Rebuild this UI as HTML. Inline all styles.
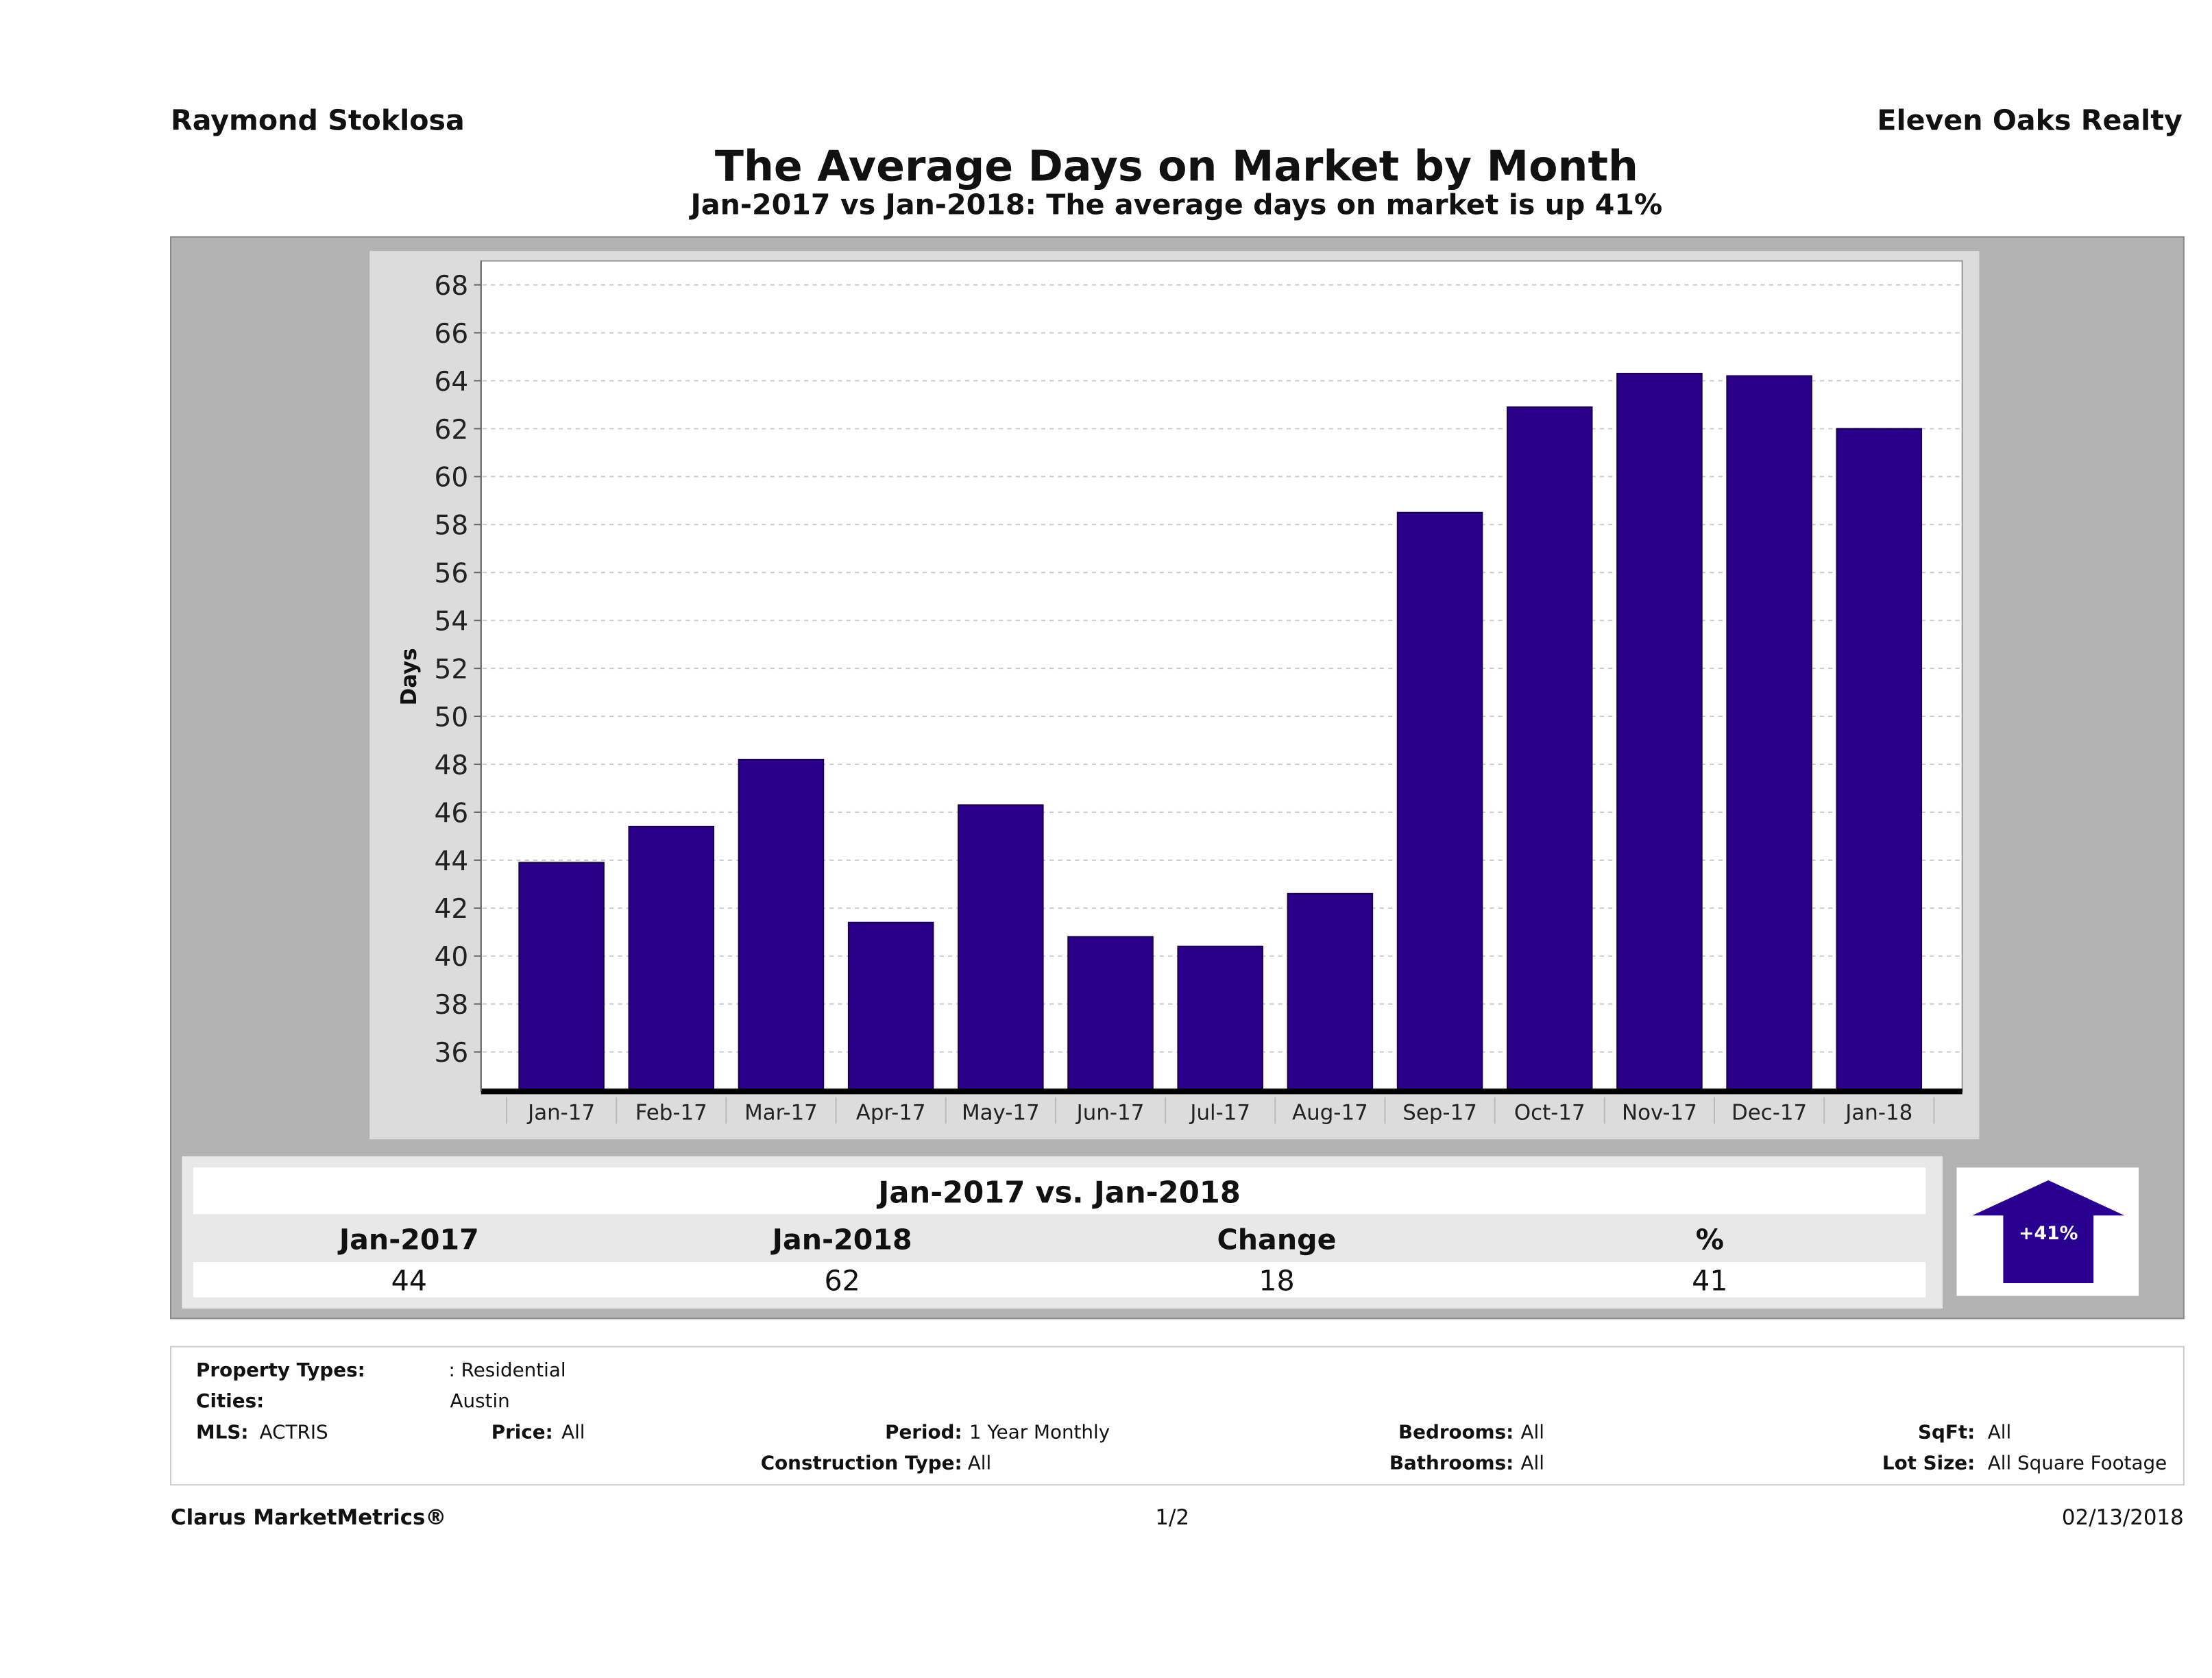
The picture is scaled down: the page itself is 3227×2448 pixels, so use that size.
<!DOCTYPE html>
<html><head><meta charset="utf-8"><style>
html,body{margin:0;padding:0;background:#fff;}
svg{display:block;}
text{font-family:"DejaVu Sans","Liberation Sans",sans-serif;}
</style></head><body>
<svg id="root" width="3227" height="2448" viewBox="0 0 1568 1190" preserveAspectRatio="none" xmlns="http://www.w3.org/2000/svg">
<rect width="1568" height="1190" fill="#fff"/>
<text x="121" y="92" font-size="20" font-weight="bold" fill="#111">Raymond Stoklosa</text>
<text x="1547" y="92" font-size="20" font-weight="bold" fill="#111" text-anchor="end">Eleven Oaks Realty</text>
<text x="834" y="128" font-size="30" font-weight="bold" fill="#111" text-anchor="middle">The Average Days on Market by Month</text>
<text x="834" y="152" font-size="20" font-weight="bold" fill="#111" text-anchor="middle">Jan-2017 vs Jan-2018: The average days on market is up 41%</text>

<rect x="121" y="168" width="1427" height="767" fill="#b3b3b3" stroke="#888"/>
<rect x="262" y="178" width="1141" height="630" fill="#dcdcdc"/>
<rect x="341" y="185" width="1050" height="589" fill="#fff" stroke="#999"/>
<g id="grid"></g>
<g id="bars"></g>
<g id="xlabels"></g>
<text transform="translate(295,480) rotate(-90)" font-size="15" font-weight="bold" text-anchor="middle" fill="#111">Days</text>

<rect x="129" y="820" width="1248" height="108" fill="#e8e8e8"/>
<rect x="137" y="828" width="1228" height="33" fill="#fff"/>
<text x="751" y="853" font-size="21" font-weight="bold" text-anchor="middle" fill="#111">Jan-2017 vs. Jan-2018</text>
<g font-size="20" font-weight="bold" fill="#111" text-anchor="middle">
<text x="290" y="886">Jan-2017</text>
<text x="597" y="886">Jan-2018</text>
<text x="905" y="886">Change</text>
<text x="1212" y="886">%</text>
</g>
<rect x="137" y="895" width="1228" height="25" fill="#fff"/>
<g font-size="20" fill="#111" text-anchor="middle">
<text x="290" y="915">44</text>
<text x="597" y="915">62</text>
<text x="905" y="915">18</text>
<text x="1212" y="915">41</text>
</g>
<rect x="1387" y="828" width="129" height="91" fill="#fff"/>
<polygon points="1398,862 1452,837 1506,862 1484,862 1484,910 1420,910 1420,862" fill="#2a0090"/>
<text x="1452" y="879" font-size="13" font-weight="bold" fill="#fff" text-anchor="middle" font-family="Liberation Serif,serif">+41%</text>

<rect x="121" y="955" width="1427" height="98" fill="#fff" stroke="#ccc"/>
<g font-size="13.5" fill="#111">
<text x="139" y="976" font-weight="bold">Property Types:</text><text x="318" y="976">: Residential</text>
<text x="139" y="998" font-weight="bold">Cities:</text><text x="319" y="998">Austin</text>
<text x="139" y="1020" font-weight="bold">MLS:</text><text x="184" y="1020">ACTRIS</text>
<text x="392" y="1020" text-anchor="end" font-weight="bold">Price:</text><text x="398" y="1020">All</text>
<text x="682" y="1020" text-anchor="end" font-weight="bold">Period:</text><text x="687" y="1020">1 Year Monthly</text>
<text x="682" y="1042" text-anchor="end" font-weight="bold">Construction Type:</text><text x="686" y="1042">All</text>
<text x="1073" y="1020" text-anchor="end" font-weight="bold">Bedrooms:</text><text x="1078" y="1020">All</text>
<text x="1073" y="1042" text-anchor="end" font-weight="bold">Bathrooms:</text><text x="1078" y="1042">All</text>
<text x="1400" y="1020" text-anchor="end" font-weight="bold">SqFt:</text><text x="1409" y="1020">All</text>
<text x="1400" y="1042" text-anchor="end" font-weight="bold">Lot Size:</text><text x="1409" y="1042">All Square Footage</text>
</g>
<text x="121" y="1081" font-size="15" font-weight="bold" fill="#111">Clarus MarketMetrics®</text>
<text x="831" y="1081" font-size="15" fill="#111" text-anchor="middle">1/2</text>
<text x="1548" y="1081" font-size="15" fill="#111" text-anchor="end">02/13/2018</text>
</svg>
<script>
const categories=["Jan-17","Feb-17","Mar-17","Apr-17","May-17","Jun-17","Jul-17","Aug-17","Sep-17","Oct-17","Nov-17","Dec-17","Jan-18"];
const values=[43.9,45.4,48.2,41.4,46.3,40.8,40.4,42.6,58.5,62.9,64.3,64.2,62.0];
const yTicks=[36,38,40,42,44,46,48,50,52,54,56,58,60,62,64,66,68];
const NS="http://www.w3.org/2000/svg";
const y=v=>202+(68-v)*17;
const x0=398,step=(1332-398)/12,bw=60,base=774;
const x=i=>x0+i*step;
function mk(t,a,p){const e=document.createElementNS(NS,t);for(const k in a)e.setAttribute(k,a[k]);p.appendChild(e);return e;}
const grid=document.getElementById('grid'),bars=document.getElementById('bars'),xl=document.getElementById('xlabels');
yTicks.forEach(v=>{
 const l=mk('line',{x1:342,x2:1390,y1:y(v),y2:y(v),stroke:'#ccc','stroke-dasharray':'3,3'},grid);
 
 
 mk('line',{x1:336,x2:341,y1:y(v),y2:y(v),stroke:'#666'},grid);
 const t=mk('text',{x:332,y:y(v)+7,'font-size':19,'text-anchor':'end',fill:'#222'},grid);
 t.textContent=v;
 
 
});
categories.forEach((c,i)=>{
 const r=mk('rect',{x:x(i)-bw/2,y:y(values[i]),width:bw,height:base-y(values[i]),fill:'#2a0088',stroke:'#1a0050','stroke-width':1},bars);
 
 
 mk('line',{x1:x(i)-step/2,x2:x(i)-step/2,y1:778,y2:797,stroke:'#bbb'},xl);
 const t=mk('text',{x:x(i),y:794,'font-size':15,'text-anchor':'middle',fill:'#222'},xl);
 t.textContent=c;
 
 
});
mk('line',{x1:x(12)+step/2,x2:x(12)+step/2,y1:778,y2:797,stroke:'#bbb'},xl);
const ax=mk('line',{x1:341,x2:1391,y1:base,y2:base,stroke:'#000','stroke-width':4},bars);


mk('line',{x1:341,x2:341,y1:185,y2:774,stroke:'#666'},bars);
</script>
</body></html>
